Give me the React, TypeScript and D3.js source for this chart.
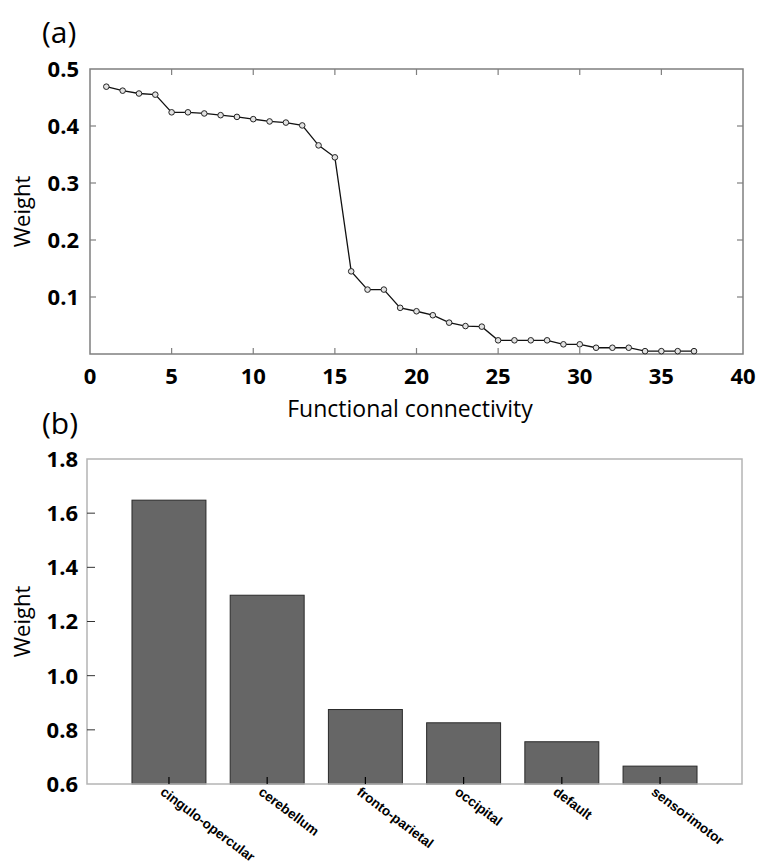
import React from 'react';
import * as d3 from 'd3';

// (a) weights of the functional connectivity features, sorted
const featureIndex = [1, 2, 3, 4, 5, 6, 7, 8, 9, 10, 11, 12, 13, 14, 15, 16, 17, 18, 19, 20, 21, 22, 23, 24, 25, 26, 27, 28, 29, 30, 31, 32, 33, 34, 35, 36, 37];
const featureWeight = [0.469, 0.462, 0.457, 0.455, 0.424, 0.424, 0.422, 0.419, 0.416, 0.412, 0.408, 0.406, 0.401, 0.366, 0.345, 0.145, 0.113, 0.113, 0.081, 0.075, 0.068, 0.055, 0.049, 0.048, 0.024, 0.024, 0.024, 0.024, 0.017, 0.017, 0.011, 0.011, 0.011, 0.005, 0.005, 0.005, 0.005];
const xTicksA = [0, 5, 10, 15, 20, 25, 30, 35, 40];
const yTicksA = [0.1, 0.2, 0.3, 0.4, 0.5];

// (b) summed weight per network
const networks = ['cingulo-opercular', 'cerebellum', 'fronto-parietal', 'occipital', 'default', 'sensorimotor'];
const networkWeight = [1.648, 1.297, 0.875, 0.826, 0.756, 0.666];
const yTicksB = [0.6, 0.8, 1.0, 1.2, 1.4, 1.6, 1.8];

const sans = '"Open Sans", "Noto Sans", sans-serif';

const App = () => {
  // panel a
  const a = { left: 90, right: 743, top: 69, bottom: 354 };
  const xA = d3.scaleLinear().domain([0, 40]).range([a.left, a.right]);
  const yA = d3.scaleLinear().domain([0, 0.5]).range([a.bottom, a.top]);
  const line = d3.line<number>()
    .x((_, i) => xA(featureIndex[i]))
    .y(d => yA(d));

  // panel b
  const b = { left: 87, right: 742, top: 459, bottom: 784 };
  const xB = d3.scaleBand<string>().domain(networks).range([b.left, b.right])
    .paddingInner(0.247).paddingOuter(0.458);
  const yB = d3.scaleLinear().domain([0.6, 1.8]).range([b.bottom, b.top]);

  return (
    <svg width={769} height={868} style={{ position: 'absolute', left: 0, top: 0, background: '#fff' }}>
      {/* ---------- (a) ---------- */}
      <text x={42} y={43} fontFamily={sans} fontSize={30}>(a)</text>
      <rect x={a.left} y={a.top} width={a.right - a.left} height={a.bottom - a.top}
        fill="none" stroke="#7f7f7f" strokeWidth={1.5} />
      {xTicksA.slice(1, -1).map(t => (
        <g key={'xa' + t} stroke="#7f7f7f" strokeWidth={1.2}>
          <line x1={xA(t)} x2={xA(t)} y1={a.bottom} y2={a.bottom - 6} />
          <line x1={xA(t)} x2={xA(t)} y1={a.top} y2={a.top + 6} />
        </g>
      ))}
      {yTicksA.slice(0, -1).map(t => (
        <g key={'ya' + t} stroke="#7f7f7f" strokeWidth={1.2}>
          <line x1={a.left} x2={a.left + 6} y1={yA(t)} y2={yA(t)} />
          <line x1={a.right} x2={a.right - 6} y1={yA(t)} y2={yA(t)} />
        </g>
      ))}
      {xTicksA.map(t => (
        <text key={'xla' + t} x={xA(t)} y={384} textAnchor="middle"
          fontFamily={sans} fontWeight="bold" fontSize={22}>{t}</text>
      ))}
      {yTicksA.map(t => (
        <text key={'yla' + t} x={79} y={yA(t)} dy="0.36em" textAnchor="end"
          fontFamily={sans} fontWeight="bold" fontSize={22}>{t.toFixed(1)}</text>
      ))}
      <text x={410} y={417} textAnchor="middle" fontFamily={sans} fontSize={23}>Functional connectivity</text>
      <text transform={`translate(30,${(a.top + a.bottom) / 2}) rotate(-90)`} textAnchor="middle"
        fontFamily={sans} fontSize={22}>Weight</text>
      <path d={line(featureWeight) ?? ''} fill="none" stroke="#111" strokeWidth={1.3} />
      {featureWeight.map((w, i) => (
        <circle key={'pt' + i} cx={xA(featureIndex[i])} cy={yA(w)} r={2.8}
          fill="#e2e2e2" stroke="#222" strokeWidth={1} />
      ))}

      {/* ---------- (b) ---------- */}
      <text x={42} y={434} fontFamily={sans} fontSize={30}>(b)</text>
      {networks.map((n, i) => (
        <rect key={'bar' + n} x={xB(n)} y={yB(networkWeight[i])} width={xB.bandwidth()}
          height={yB(0.6) - yB(networkWeight[i])} fill="#666666" stroke="#2a2a2a" strokeWidth={1} />
      ))}
      <rect x={b.left} y={b.top} width={b.right - b.left} height={b.bottom - b.top}
        fill="none" stroke="#b4b4b4" strokeWidth={1.5} />
      {yTicksB.slice(1, -1).map(t => (
        <line key={'ybt' + t} x1={b.left} x2={b.left + 8} y1={yB(t)} y2={yB(t)} stroke="#333" strokeWidth={1} />
      ))}
      {networks.map(n => (
        <line key={'xbt' + n} x1={xB(n)! + xB.bandwidth() / 2} x2={xB(n)! + xB.bandwidth() / 2}
          y1={b.bottom} y2={b.bottom - 7} stroke="#000" strokeWidth={1.2} />
      ))}
      {yTicksB.map(t => (
        <text key={'ylb' + t} x={78} y={yB(t)} dy="0.36em" textAnchor="end"
          fontFamily={sans} fontWeight="bold" fontSize={22}>{t.toFixed(1)}</text>
      ))}
      {networks.map(n => (
        <text key={'xlb' + n}
          transform={`translate(${xB(n)! + xB.bandwidth() / 2 - 3},${b.bottom + 1}) rotate(37)`}
          dy="0.8em" fontFamily='"Liberation Sans", Arial, sans-serif' fontWeight="bold" fontSize={13.5}>{n}</text>
      ))}
      <text transform={`translate(30,${(b.top + b.bottom) / 2}) rotate(-90)`} textAnchor="middle"
        fontFamily={sans} fontSize={22}>Weight</text>
    </svg>
  );
};

export default App;
